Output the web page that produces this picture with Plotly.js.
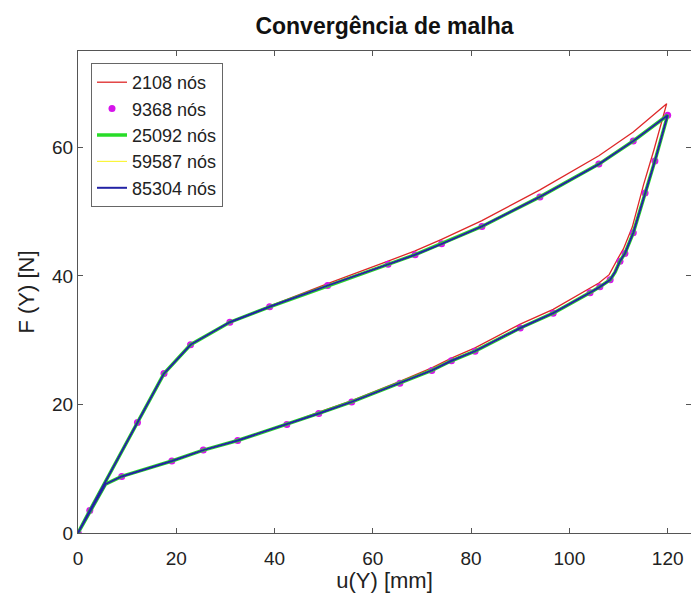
<!DOCTYPE html>
<html>
<head>
<meta charset="utf-8">
<script src="https://cdn.plot.ly/plotly-3.0.1.min.js"></script>
<style>
  html, body { margin: 0; padding: 0; background: #fff; }
  #chart { width: 691px; height: 593px; }
</style>
</head>
<body>
<div id="chart"></div>
<script>
// Force-displacement loop for each mesh: loading branch up to u = 120 mm,
// then unloading back to the origin.

// Coarsest mesh (2108 nodes)
const u2108 = [0, 2.4, 12.1, 17.5, 22.9, 30.9, 39.0, 50.8, 63.1, 68.6, 74.0, 82.2, 94.0, 106.0, 113.0, 119.8,
               117.2, 115.1, 112.8, 111.0, 110.0, 108.1, 106.0, 104.0, 96.7, 90.0, 80.8, 76.0, 72.0, 65.5, 55.7, 49.0, 42.5, 32.5, 25.5, 19.1, 8.9, 5.6, 0];
const F2108 = [0, 3.5, 17.2, 24.8, 29.3, 32.8, 35.3, 38.8, 42.3, 43.9, 45.7, 48.6, 53.4, 58.7, 62.4, 66.8,
               59.6, 54.2, 47.6, 44.2, 42.9, 40.2, 38.9, 38.0, 34.8, 32.5, 28.8, 27.2, 25.7, 23.6, 20.6, 18.8, 17.0, 14.5, 12.9, 11.2, 8.8, 7.6, 0];

// 9368 nodes (drawn as points)
const u9368 = [0, 2.4, 12.1, 17.5, 22.9, 30.9, 39.0, 50.8, 63.1, 68.6, 74.0, 82.2, 94.0, 106.0, 113.0, 120.0,
               117.4, 115.4, 113.0, 111.3, 110.3, 108.3, 106.2, 104.2, 96.7, 90.0, 80.8, 76.0, 72.0, 65.5, 55.7, 49.0, 42.5, 32.5, 25.5, 19.1, 8.9, 0];
const F9368 = [0, 3.5, 17.2, 24.8, 29.3, 32.8, 35.2, 38.5, 41.8, 43.3, 45.0, 47.7, 52.3, 57.4, 61.0, 65.0,
               57.9, 52.9, 46.7, 43.5, 42.3, 39.4, 38.3, 37.4, 34.2, 31.9, 28.3, 26.8, 25.3, 23.3, 20.4, 18.6, 16.9, 14.4, 12.9, 11.2, 8.8, 0];

// The three finest meshes coincide along the whole loop
const uFine = [0, 2.4, 12.1, 17.5, 22.9, 30.9, 39.0, 50.8, 63.1, 68.6, 74.0, 82.2, 94.0, 106.0, 113.0, 120.0,
               117.4, 115.4, 113.0, 111.3, 110.3, 109.3, 108.3, 106.2, 104.2, 96.7, 90.0, 80.8, 76.0, 72.0, 65.5, 55.7, 49.0, 42.5, 32.5, 25.5, 19.1, 8.9, 5.6, 0];
const FFine = [0, 3.5, 17.2, 24.8, 29.3, 32.8, 35.2, 38.5, 41.8, 43.3, 45.0, 47.7, 52.3, 57.4, 61.0, 65.0,
               57.9, 52.9, 46.7, 43.5, 42.3, 40.6, 39.4, 38.3, 37.4, 34.2, 31.9, 28.3, 26.8, 25.3, 23.3, 20.4, 18.6, 16.9, 14.4, 12.9, 11.2, 8.8, 7.6, 0];
const u25092 = uFine, F25092 = FFine;
const u59587 = uFine, F59587 = FFine;
const u85304 = uFine, F85304 = FFine;

const seriesNames = ['2108 nós', '9368 nós', '25092 nós', '59587 nós', '85304 nós'];
const xTicks = [0, 20, 40, 60, 80, 100, 120];
const yTicks = [0, 20, 40, 60];

const FONT = 'Liberation Sans, Arial, Helvetica, sans-serif';

const traces = [
  { x: u2108, y: F2108, name: seriesNames[0], mode: 'lines',
    line: { color: 'rgb(222,40,40)', width: 1.3 } },
  { x: u9368, y: F9368, name: seriesNames[1], mode: 'markers',
    marker: { color: 'rgb(214,20,235)', size: 7 } },
  { x: u25092, y: F25092, name: seriesNames[2], mode: 'lines',
    line: { color: 'rgb(40,220,40)', width: 3.5 } },
  { x: u59587, y: F59587, name: seriesNames[3], mode: 'lines',
    line: { color: 'rgb(250,245,60)', width: 1.2 } },
  { x: u85304, y: F85304, name: seriesNames[4], mode: 'lines',
    line: { color: 'rgb(35,35,165)', width: 2 } }
];

const axisCommon = {
  showgrid: false, zeroline: false,
  showline: true, linecolor: '#555', linewidth: 1,
  mirror: 'allticks', ticks: 'inside', ticklen: 5, tickcolor: '#555',
  tickfont: { family: FONT, size: 19, color: '#222' }
};

const layout = {
  width: 691, height: 593,
  margin: { l: 78, r: 0, t: 51, b: 60 },
  paper_bgcolor: '#fff', plot_bgcolor: '#fff',
  title: {
    text: 'Convergência de malha',
    font: { family: FONT, size: 23, color: '#111', weight: 'bold' },
    x: 0.5, xref: 'paper', y: 1 - 26 / 593, yref: 'container', yanchor: 'middle'
  },
  xaxis: Object.assign({}, axisCommon, {
    range: [0, 124.75], tickvals: xTicks, ticktext: xTicks.map(String),
    ticklabelstandoff: 8,
    title: { text: 'u(Y) [mm]', font: { family: FONT, size: 22, color: '#222' }, standoff: 5 }
  }),
  yaxis: Object.assign({}, axisCommon, {
    range: [0, 75], tickvals: yTicks, ticktext: yTicks.map(String),
    title: { text: 'F (Y) [N]', font: { family: FONT, size: 22, color: '#222' }, standoff: 11 }
  }),
  showlegend: true,
  legend: {
    x: (91 - 78) / 613, xanchor: 'left', y: 1 - (63 - 51) / 482, yanchor: 'top',
    bgcolor: '#fff', bordercolor: '#666', borderwidth: 1,
    font: { family: FONT, size: 18, color: '#222' },
    tracegroupgap: 0, itemwidth: 30
  }
};

Plotly.newPlot('chart', traces, layout, { staticPlot: true, displayModeBar: false });
</script>
</body>
</html>
